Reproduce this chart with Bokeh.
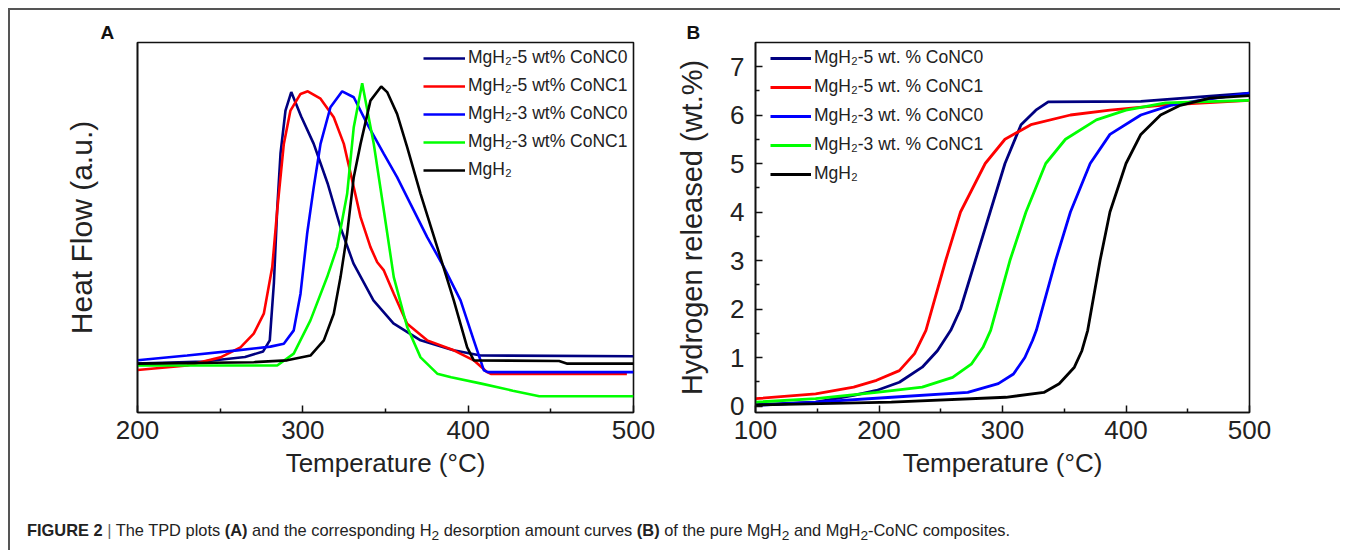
from bokeh.plotting import figure
from bokeh.models import Range1d, Legend, LegendItem, FixedTicker, Div
from bokeh.layouts import row, column
from bokeh.embed import file_html
from bokeh.resources import INLINE

# ---------------- Panel A: TPD heat flow (a.u.) ----------------
a_navy_t = [200, 240, 265, 276, 280, 282.5, 284.5, 286.5, 289.5, 293, 299, 306.6, 315, 322.8, 330.6, 342.7, 354.8, 371.2, 391.1, 407.5, 500]
a_navy_y = [13.2, 13.8, 15.0, 16.5, 19.5, 35, 55, 70, 81.6, 86.6, 80, 72.6, 61.9, 50, 40.3, 30.3, 24.1, 19.5, 16.8, 15.4, 15.2]

a_red_t = [200, 230, 250.2, 262.3, 270.3, 276.4, 281.5, 284.5, 288.5, 292.5, 298.6, 303, 310.7, 318.7, 324.8, 330.8, 334.9, 340.9, 345, 349, 355, 363.1, 375.2, 391.3, 403.4, 411.5, 414, 496]
a_red_y = [11.5, 12.7, 14.9, 17.6, 21.3, 26.7, 39.3, 54.6, 72.6, 81.6, 86.1, 86.8, 84.8, 79.8, 72.6, 60.9, 52.8, 44.7, 40.6, 38.4, 32.1, 24.0, 19.5, 16.8, 14.1, 10.9, 10.4, 10.4]

a_blue_t = [200, 230, 260.3, 280.4, 288.5, 294.5, 298.6, 302.6, 306.6, 310.7, 316.7, 323.8, 330.8, 338.9, 349, 357, 365.1, 375.2, 385.3, 395.4, 403.4, 409.5, 412, 500]
a_blue_y = [14.1, 15.4, 16.8, 17.8, 18.6, 22.2, 32.1, 48.3, 60.9, 72.6, 82.5, 86.8, 85.2, 78.0, 69.9, 63.6, 56.4, 47.4, 39.3, 30.3, 19.5, 11.4, 10.9, 10.9]

a_green_t = [200, 284.5, 294.5, 304.6, 314.7, 320.8, 326.8, 330.8, 335.9, 342.9, 349, 355, 363.1, 371.2, 381.3, 389.7, 408, 427, 443, 500]
a_green_y = [12.7, 12.7, 15.9, 24.9, 36.6, 44.7, 59.1, 77.1, 89.0, 72.6, 54.6, 36.6, 23.1, 14.9, 10.5, 9.5, 7.8, 5.9, 4.4, 4.4]

a_black_t = [200, 270.3, 290.5, 304.6, 312.7, 318.7, 322.8, 326.8, 330.8, 334.9, 340.9, 347.4, 351, 357, 363.1, 371.2, 381.3, 391.3, 399.4, 403.4, 455, 460, 500]
a_black_y = [13.2, 13.6, 14.1, 15.4, 19.5, 26.7, 36.6, 48.3, 63.6, 72.6, 84.3, 88.1, 86.6, 80.7, 71.7, 59.1, 44.7, 30.3, 17.6, 14.1, 13.9, 13.2, 13.2]

a_labels = ["MgH\u2082-5 wt% CoNC0", "MgH\u2082-5 wt% CoNC1", "MgH\u2082-3 wt% CoNC0", "MgH\u2082-3 wt% CoNC1", "MgH\u2082"]

# ---------------- Panel B: hydrogen released (wt.%) ----------------
b_navy_t = [100, 148.7, 179.5, 198, 216.5, 235, 247.3, 258.1, 266, 278, 290, 302, 315, 327, 337, 412, 500]
b_navy_y = [0.03, 0.08, 0.22, 0.32, 0.49, 0.80, 1.14, 1.56, 2.0, 3.0, 4.0, 5.0, 5.8, 6.1, 6.27, 6.28, 6.45]

b_red_t = [100, 148.7, 179.5, 198, 216.5, 228.8, 238, 254, 266, 286, 302, 323, 355, 387, 428, 500]
b_red_y = [0.15, 0.25, 0.39, 0.53, 0.73, 1.08, 1.56, 3.0, 4.0, 5.0, 5.5, 5.8, 6.0, 6.1, 6.2, 6.3]

b_blue_t = [100, 148.7, 210.3, 271.9, 296.6, 308.9, 318.1, 324.3, 327.4, 343, 355, 371, 387, 412, 436, 460, 500]
b_blue_y = [0.01, 0.08, 0.18, 0.28, 0.46, 0.66, 1.0, 1.35, 1.56, 3.0, 4.0, 5.0, 5.6, 6.0, 6.2, 6.3, 6.45]

b_green_t = [100, 148.7, 198, 235, 259.6, 275, 284.2, 290.4, 306, 319, 335, 351, 376, 400, 432, 500]
b_green_y = [0.08, 0.15, 0.28, 0.39, 0.59, 0.87, 1.21, 1.56, 3.0, 4.0, 5.0, 5.5, 5.9, 6.1, 6.25, 6.3]

b_black_t = [100, 210, 302.7, 333.5, 345.9, 358.2, 364.3, 369, 379, 387, 400, 412, 428, 444, 468, 500]
b_black_y = [0.02, 0.08, 0.18, 0.28, 0.46, 0.80, 1.14, 1.56, 3.0, 4.0, 5.0, 5.6, 6.0, 6.2, 6.35, 6.4]

b_labels = ["MgH\u2082-5 wt. % CoNC0", "MgH\u2082-5 wt. % CoNC1", "MgH\u2082-3 wt. % CoNC0", "MgH\u2082-3 wt. % CoNC1", "MgH\u2082"]

colors = ["#000080", "#ff0000", "#0000ff", "#00ff00", "#000000"]

a_xticks = [200, 300, 400, 500]
a_xminor = [250, 350, 450]
b_xticks = [100, 200, 300, 400, 500]
b_xminor = [150, 250, 350, 450]
b_yticks = [0, 1, 2, 3, 4, 5, 6, 7]
b_yminor = [0.5, 1.5, 2.5, 3.5, 4.5, 5.5, 6.5]

caption_html = ('<b>FIGURE 2</b> <span style="color:#666">|</span> The TPD plots <b>(A)</b> and the corresponding '
                'H<sub>2</sub> desorption amount curves <b>(B)</b> of the pure MgH<sub>2</sub> and '
                'MgH<sub>2</sub>-CoNC composites.')

FONT = "Liberation Sans"


def style_axis(ax, tick_size="26px"):
    ax.axis_line_width = 1.6
    ax.axis_line_color = "#111111"
    ax.major_tick_in = 7
    ax.major_tick_out = 0
    ax.minor_tick_in = 4
    ax.minor_tick_out = 0
    ax.major_tick_line_width = 1.5
    ax.minor_tick_line_width = 1.5
    ax.major_tick_line_color = "#111111"
    ax.minor_tick_line_color = "#111111"
    ax.major_label_text_font = FONT
    ax.major_label_text_font_size = tick_size
    ax.major_label_text_color = "#222222"
    ax.axis_label_text_font = FONT
    ax.axis_label_text_font_style = "normal"
    ax.axis_label_text_color = "#222222"


def base_fig(width, xr, yr, left, right, panel, title_offset):
    p = figure(width=width, height=480, x_range=xr, y_range=yr,
               output_backend="svg", toolbar_location=None,
               min_border_left=left, min_border_right=right,
               min_border_top=32, min_border_bottom=78, title=panel)
    p.grid.visible = False
    p.outline_line_color = "#111111"
    p.outline_line_width = 1.6
    p.background_fill_color = "white"
    p.border_fill_color = "white"
    p.title.text_font = FONT
    p.title.text_font_size = "19px"
    p.title.text_font_style = "bold"
    p.title.text_color = "#111111"
    p.title.align = "left"
    p.title.offset = title_offset
    p.title.standoff = 0
    return p


# ---- panel A
pA = base_fig(663, Range1d(200, 500), Range1d(0, 100), 127, 40, "A", -37)
style_axis(pA.xaxis[0])
style_axis(pA.yaxis[0])
pA.xaxis.ticker = FixedTicker(ticks=a_xticks, minor_ticks=a_xminor)
pA.yaxis.ticker = FixedTicker(ticks=[], minor_ticks=[])
pA.yaxis.major_label_text_font_size = "0px"
pA.xaxis.major_label_standoff = 8
pA.xaxis.axis_label = "Temperature (\u00b0C)"
pA.xaxis.axis_label_text_font_size = "26px"
pA.xaxis.axis_label_standoff = 6
pA.yaxis.axis_label = "Heat Flow (a.u.)"
pA.yaxis.axis_label_text_font_size = "30px"
pA.yaxis.axis_label_standoff = 40

a_series = [(a_navy_t, a_navy_y), (a_red_t, a_red_y), (a_blue_t, a_blue_y),
            (a_green_t, a_green_y), (a_black_t, a_black_y)]
itemsA = []
for (t, y), c, lab in zip(a_series, colors, a_labels):
    r = pA.line(t, y, line_color=c, line_width=2.6)
    itemsA.append(LegendItem(label=lab, renderers=[r]))
legA = Legend(items=itemsA, location=(286, 232), padding=0, margin=0, spacing=7,
              glyph_width=42, glyph_height=20, label_height=20, label_standoff=3,
              label_text_font=FONT, label_text_font_size="17.5px", label_text_color="#222222",
              border_line_color=None, background_fill_alpha=0)
pA.add_layout(legA)

# ---- panel B
pB = base_fig(636, Range1d(100, 500), Range1d(-0.134, 7.495), 82, 60, "B", -69)
style_axis(pB.xaxis[0])
style_axis(pB.yaxis[0])
pB.xaxis.ticker = FixedTicker(ticks=b_xticks, minor_ticks=b_xminor)
pB.yaxis.ticker = FixedTicker(ticks=b_yticks, minor_ticks=b_yminor)
pB.xaxis.major_label_standoff = 8
pB.yaxis.major_label_standoff = 11
pB.xaxis.axis_label = "Temperature (\u00b0C)"
pB.xaxis.axis_label_text_font_size = "26px"
pB.xaxis.axis_label_standoff = 6
pB.yaxis.axis_label = "Hydrogen released (wt.%)"
pB.yaxis.axis_label_text_font_size = "29px"
pB.yaxis.axis_label_standoff = 19

b_series = [(b_navy_t, b_navy_y), (b_red_t, b_red_y), (b_blue_t, b_blue_y),
            (b_green_t, b_green_y), (b_black_t, b_black_y)]
itemsB = []
for (t, y), c, lab in zip(b_series, colors, b_labels):
    r = pB.line(t, y, line_color=c, line_width=2.8)
    itemsB.append(LegendItem(label=lab, renderers=[r]))
legB = Legend(items=itemsB, location=(15, 228), padding=0, margin=0, spacing=8,
              glyph_width=41, glyph_height=20, label_height=20, label_standoff=3,
              label_text_font=FONT, label_text_font_size="17.5px", label_text_color="#222222",
              border_line_color=None, background_fill_alpha=0)
pB.add_layout(legB)

caption = Div(text=caption_html, width=1320, height=52,
              styles={"font-family": "'Liberation Sans', Arial, sans-serif", "font-size": "16.4px",
                      "color": "#222222", "padding-left": "12px", "padding-top": "24px",
                      "white-space": "nowrap"})

layout = column(row(pA, pB), caption, margin=(8, 0, 0, 8),
                styles={"border-top": "2px solid #555555", "border-left": "2px solid #555555",
                        "background-color": "white"})

open("out.html", "w").write(file_html(layout, INLINE))
